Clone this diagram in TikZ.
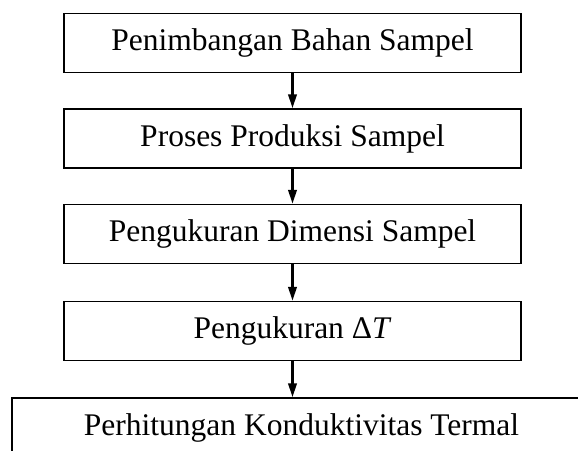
\documentclass[tikz,border=0pt]{standalone}
\usepackage{fontspec}
\setmainfont{Liberation Serif}
\usetikzlibrary{arrows.meta}
\begin{document}
\begin{tikzpicture}[x=1pt,y=-1pt,
  box/.style={draw,line width=1.5pt,rectangle,inner sep=0pt,minimum width=457pt,minimum height=59pt,
    font=\fontsize{31.5}{36}\selectfont},
  flow/.style={line width=2.4pt,-{Triangle[length=14pt,width=8.5pt]}}]
\useasboundingbox (0,0) rectangle (578,450);
\clip (0,0) rectangle (578,450);
\fill[white] (0,0) rectangle (578,450);
\node[box] (b1) at (292.5,43) {Penimbangan Bahan Sampel};
\node[box] (b2) at (292.5,138.5) {Proses Produksi Sampel};
\node[box] (b3) at (292.5,234) {Pengukuran Dimensi Sampel};
\node[box] (b4) at (292.5,331) {Pengukuran Δ\textit{T}};
\node[box,minimum width=579pt] (b5) at (301.5,427.5) {Perhitungan Konduktivitas Termal};
\draw[flow] (b1.south) -- (b2.north);
\draw[flow] (b2.south) -- (b3.north);
\draw[flow] (b3.south) -- (b4.north);
\draw[flow] (b4.south) -- (b4.south |- b5.north);
\end{tikzpicture}
\end{document}
